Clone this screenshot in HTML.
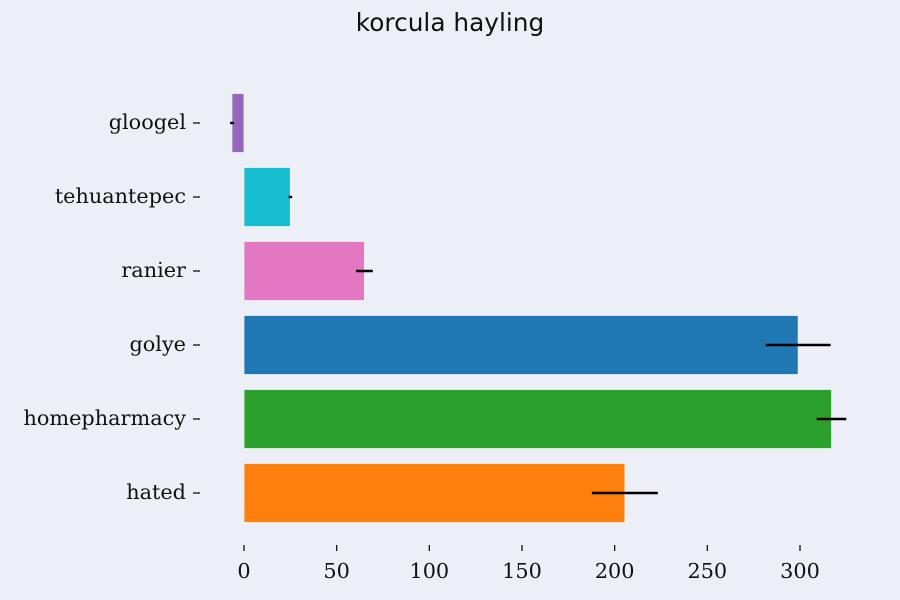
<!DOCTYPE html>
<html><head><meta charset="utf-8"><style>
body{margin:0;background:#eceff5;}
svg{display:block;}
</style></head><body>
<svg id="chart" width="900" height="600" xmlns="http://www.w3.org/2000/svg">
<rect width="900" height="600" fill="#eceff5"/>
<text x="450" y="31" text-anchor="middle" font-family="DejaVu Sans, Liberation Sans, sans-serif" font-size="24.8" fill="#111">korcula hayling</text>
<g id="plot"></g>
</svg>
<script>
const categories = ["gloogel","tehuantepec","ranier","golye","homepharmacy","hated"];
const values = [-6.5, 25, 65, 299, 317, 205.5];
const errors = [1, 1, 4.5, 17.5, 8, 17.8];
const colors = ["#9467bd","#17becf","#e377c2","#1f77b4","#2ca02c","#ff7f0e"];
const xTicks = [0,50,100,150,200,250,300];

const NS="http://www.w3.org/2000/svg";
const g=document.getElementById('plot');
const x0=244, pxPer=(800-244)/300;
const xs=v=>x0+v*pxPer;
const y0=123, step=74, bh=59;
const ys=i=>y0+i*step;
function mk(t,a){const e=document.createElementNS(NS,t);for(const k in a)e.setAttribute(k,a[k]);g.appendChild(e);return e;}
categories.forEach((c,i)=>{
  const v=values[i], xa=Math.min(xs(0),xs(v)), w=Math.abs(xs(v)-xs(0));
  const r=mk('rect',{x:xa,y:ys(i)-bh/2,width:w,height:bh,fill:colors[i],stroke:'#eceff5','stroke-width':0.8});
  
  
  const e=mk('line',{x1:xs(v-errors[i]),x2:xs(v+errors[i]),y1:ys(i),y2:ys(i),stroke:'#000','stroke-width':2.4});
  
  
  const tk=mk('line',{x1:193,x2:200,y1:ys(i),y2:ys(i),stroke:'#111','stroke-width':1.3});
  
  
  const t=mk('text',{x:186,y:ys(i)+6,'text-anchor':'end','font-family':'DejaVu Serif, Liberation Serif, serif','font-size':20.8,fill:'#111'});
  t.textContent=c;
  
  
});
xTicks.forEach(v=>{
  const tk=mk('line',{x1:xs(v),x2:xs(v),y1:545,y2:551,stroke:'#111','stroke-width':1.3});
  
  
  const t=mk('text',{x:xs(v),y:578,'text-anchor':'middle','font-family':'DejaVu Serif, Liberation Serif, serif','font-size':20.8,fill:'#111'});
  t.textContent=v;
  
  
});
</script>
</body></html>
